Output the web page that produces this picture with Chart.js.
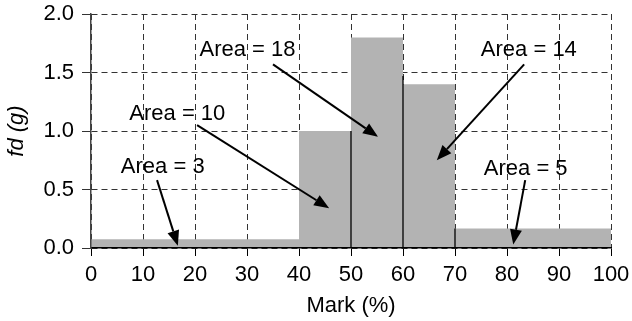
<!DOCTYPE html>
<html>
<head>
<meta charset="utf-8">
<title>Mark histogram</title>
<script src="https://cdn.jsdelivr.net/npm/chart.js@4.4.1/dist/chart.umd.min.js"></script>
<style>
  html, body { margin: 0; padding: 0; background: #fff; }
  #wrap { width: 632px; height: 321px; }
</style>
</head>
<body>
<div id="wrap"><canvas id="hist"></canvas></div>
<script>
// class edges (mark %) and frequency density of each class
const binStarts = [0, 40, 50, 60, 70];
const binEnd = 100;
const fdValues = [0.075, 1.0, 1.8, 1.4, 0.1667];
const areas = [3, 10, 18, 14, 5];

// dark separators drawn between some of the bars
const dividerMarks = [50, 60, 70];
const dividerTops = [1.0, 1.47, 0.167];

const xTicks = [0, 10, 20, 30, 40, 50, 60, 70, 80, 90, 100];
const yTicks = [0, 0.5, 1.0, 1.5, 2.0];

// label placement (data units): text centre, arrow tail, arrow tip
const notes = [
  { area: 3,  text: [13.8, 0.69], from: [12.7, 0.58], to: [16.7, 0.02] },
  { area: 10, text: [16.6, 1.15], from: [20.4, 1.05], to: [45.8, 0.34] },
  { area: 18, text: [30.1, 1.69], from: [35.0, 1.57], to: [55.2, 0.95] },
  { area: 14, text: [84.2, 1.69], from: [83.3, 1.57], to: [66.5, 0.75] },
  { area: 5,  text: [83.6, 0.68], from: [83.5, 0.58], to: [81.2, 0.03] }
];

const FONT = "'Liberation Sans', Arial, Helvetica, sans-serif";
const FSIZE = 22;

// histogram outline as a stepped line, filled down to zero
const histPoints = binStarts.map((x, i) => ({ x: x, y: fdValues[i] }));
histPoints.push({ x: binEnd, y: fdValues[fdValues.length - 1] });

// first datasets are painted last, so the separators go ahead of the fill
const dividerSets = dividerMarks.map((x, i) => ({
  data: [{ x: x, y: 0 }, { x: x, y: dividerTops[i] }],
  borderColor: "#000",
  borderWidth: 1.3,
  pointRadius: 0,
  fill: false
}));

const arrowNotes = {
  id: "arrowNotes",
  afterDatasetsDraw(chart) {
    const { ctx, scales: { x, y } } = chart;
    ctx.save();
    ctx.font = FSIZE + "px " + FONT;
    ctx.fillStyle = "#000";
    ctx.strokeStyle = "#000";
    ctx.textAlign = "center";
    ctx.textBaseline = "middle";
    notes.forEach(n => {
      ctx.fillText("Area = " + n.area, x.getPixelForValue(n.text[0]), y.getPixelForValue(n.text[1]));

      const x1 = x.getPixelForValue(n.from[0]);
      const y1 = y.getPixelForValue(n.from[1]);
      const x2 = x.getPixelForValue(n.to[0]);
      const y2 = y.getPixelForValue(n.to[1]);
      const ang = Math.atan2(y2 - y1, x2 - x1);
      const headLen = 15;
      const headW = 6;
      const bx = x2 - headLen * Math.cos(ang);
      const by = y2 - headLen * Math.sin(ang);

      ctx.lineWidth = 2;
      ctx.beginPath();
      ctx.moveTo(x1, y1);
      ctx.lineTo(bx, by);
      ctx.stroke();

      ctx.beginPath();
      ctx.moveTo(x2, y2);
      ctx.lineTo(bx + headW * Math.sin(ang), by - headW * Math.cos(ang));
      ctx.lineTo(bx - headW * Math.sin(ang), by + headW * Math.cos(ang));
      ctx.closePath();
      ctx.fill();
    });
    ctx.restore();
  }
};

new Chart(document.getElementById("hist"), {
  type: "line",
  data: {
    datasets: [
      ...dividerSets,
      {
        data: histPoints,
        stepped: "before",
        fill: "origin",
        backgroundColor: "#b3b3b3",
        borderWidth: 0,
        borderColor: "rgba(0,0,0,0)",
        pointRadius: 0
      }
    ]
  },
  options: {
    responsive: true,
    maintainAspectRatio: false,
    animation: false,
    layout: { padding: { top: 14, right: 21, left: 0, bottom: 0 } },
    plugins: { legend: { display: false }, tooltip: { enabled: false } },
    scales: {
      x: {
        type: "linear",
        min: 0,
        max: 100,
        afterBuildTicks: s => { s.ticks = xTicks.map(v => ({ value: v })); },
        afterFit: s => { s.height = 73; s.paddingLeft = 0; s.paddingRight = 0; },
        ticks: { color: "#000", font: { family: FONT, size: FSIZE }, padding: 6, maxRotation: 0 },
        grid: { color: "#333", lineWidth: 1, tickLength: 8, tickColor: "#000", tickWidth: 1 },
        border: { display: true, color: "#000", width: 1.5, dash: [6, 4], z: 1 },
        title: { display: true, text: "Mark (%)", color: "#000", padding: { top: 4, bottom: 2 },
                 font: { family: FONT, size: FSIZE } }
      },
      y: {
        min: 0,
        max: 2,
        afterBuildTicks: s => { s.ticks = yTicks.map(v => ({ value: v })); },
        afterFit: s => { s.width = 91; s.paddingTop = 0; s.paddingBottom = 0; },
        ticks: { color: "#000", font: { family: FONT, size: FSIZE }, padding: 8, callback: v => v.toFixed(1) },
        grid: { color: "#333", lineWidth: 1, tickLength: 9, tickColor: "#333", tickWidth: 1 },
        border: { display: true, color: "#444", width: 1.5, dash: [6, 4], z: 1 },
        title: { display: true, text: "fd (g)", color: "#000", padding: { top: 4, bottom: 4 },
                 font: { family: FONT, size: FSIZE, style: "italic" } }
      }
    }
  },
  plugins: [arrowNotes]
});
</script>
</body>
</html>
